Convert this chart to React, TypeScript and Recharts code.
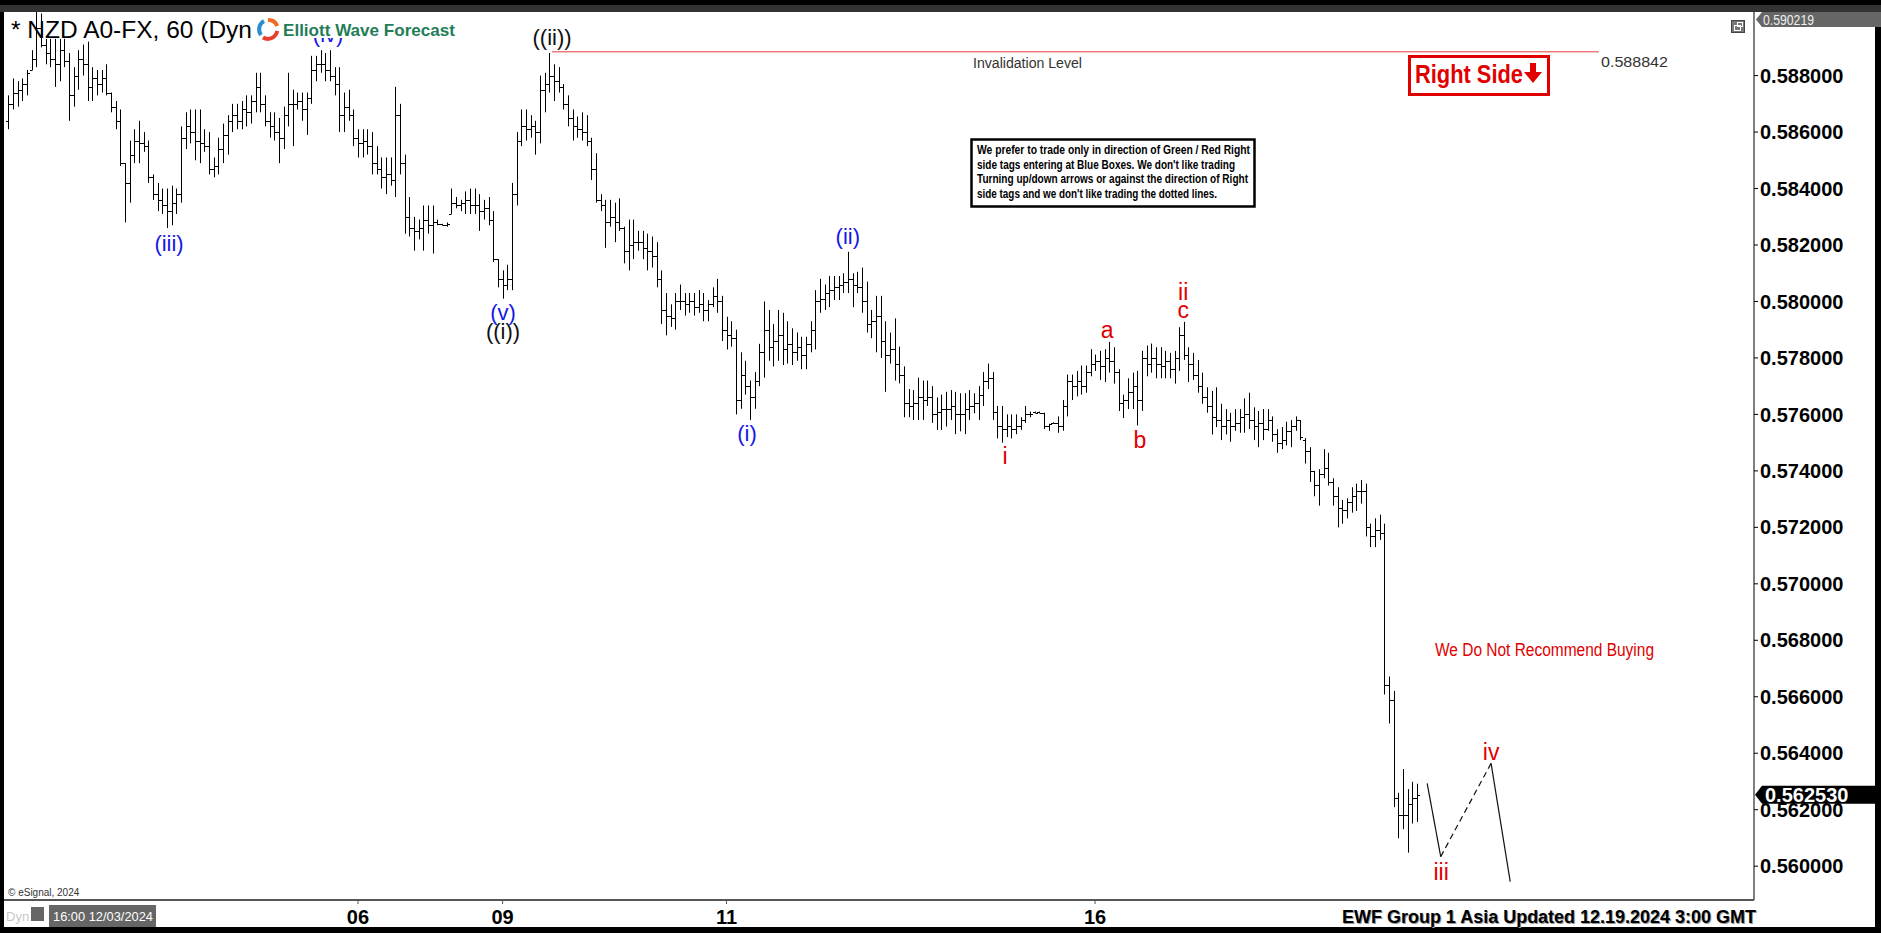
import React from 'react'
import {
  ComposedChart,
  Bar,
  Line,
  XAxis,
  YAxis,
  ReferenceLine,
  ReferenceDot,
} from 'recharts'

// hourly bars, prices in pips (x10000)
const highs = [
  5873, 5879, 5878, 5879, 5882, 5889, 5903, 5902, 5893, 5893,
  5893, 5893, 5893, 5888, 5883, 5889, 5891, 5892, 5883, 5882,
  5882, 5884, 5874, 5871, 5868, 5849, 5857, 5861, 5864, 5860,
  5857, 5845, 5842, 5840, 5840, 5841, 5840, 5862, 5867, 5868,
  5868, 5868, 5861, 5860, 5851, 5858, 5863, 5866, 5870, 5870,
  5871, 5873, 5873, 5881, 5881, 5873, 5867, 5867, 5865, 5869,
  5881, 5875, 5874, 5874, 5874, 5887, 5887, 5889, 5888, 5889,
  5883, 5883, 5874, 5875, 5868, 5861, 5861, 5861, 5860, 5855,
  5851, 5851, 5851, 5876, 5870, 5852, 5837, 5830, 5829, 5834,
  5834, 5834, 5829, 5827.5, 5828, 5840, 5837, 5836, 5839, 5840,
  5840, 5838, 5836, 5837, 5832, 5815, 5811, 5813, 5842, 5860,
  5868, 5868, 5866, 5864, 5880, 5881, 5888, 5884, 5883, 5877,
  5873, 5868, 5865.5, 5867, 5866, 5858, 5852.5, 5838, 5836, 5836,
  5835, 5836.5, 5826.5, 5829, 5829, 5825, 5825, 5824, 5823, 5821,
  5811, 5803, 5799, 5803, 5806, 5803, 5803, 5803, 5804, 5803,
  5800.5, 5805, 5808, 5802, 5794.6, 5793, 5790, 5782, 5779, 5772,
  5775, 5785, 5800, 5797, 5792, 5797, 5796, 5793, 5790.5, 5789,
  5787.5, 5787.5, 5793, 5804, 5808, 5806, 5809, 5809, 5809, 5810,
  5817.6, 5810, 5810.5, 5812, 5807, 5797, 5802, 5802, 5793, 5789,
  5794, 5784, 5777, 5769, 5768.6, 5773, 5772, 5772, 5770, 5766,
  5767, 5768, 5768.6, 5768, 5767.5, 5767.5, 5768.6, 5767.5, 5770, 5775,
  5778, 5775, 5763, 5763, 5760, 5760, 5760, 5759, 5763, 5761,
  5761, 5761, 5760.6, 5756.7, 5757.2, 5759.3, 5765.1, 5774.1, 5774.1, 5775.4,
  5777.3, 5777.3, 5783.1, 5781.2, 5782.5, 5783.1, 5785.7, 5783.8, 5776, 5767,
  5772.8, 5774.8, 5775.4, 5782.5, 5784.4, 5785.1, 5783.8, 5783.8, 5782.5, 5781.8,
  5782.5, 5790.9, 5792.8, 5783.8, 5781.8, 5779.3, 5774.8, 5769.6, 5768.3, 5769.6,
  5763.8, 5761.9, 5760.6, 5761.9, 5761.9, 5765.7, 5767.7, 5762.5, 5761.2, 5761.9,
  5761.9, 5759.3, 5754.8, 5755.5, 5757.4, 5758.0, 5759.3, 5758.0, 5751.6, 5748.4,
  5740.0, 5740.6, 5747.7, 5746.4, 5737.4, 5734.2, 5729.7, 5730.3, 5734.2, 5735.5,
  5736.8, 5735.5, 5721.3, 5723.2, 5724.5, 5721.3, 5667.2, 5662.1, 5626.0, 5634.4,
  5627.3, 5629.9, 5629.2,
]

const lows = [
  5861, 5868, 5869, 5871, 5873, 5882, 5883, 5890, 5884, 5883,
  5876, 5878, 5883, 5864, 5869, 5875, 5880, 5871, 5871, 5873,
  5874, 5873, 5867, 5861, 5848, 5828, 5835, 5849, 5849, 5853,
  5842, 5836, 5832, 5831, 5826, 5827, 5831, 5835, 5854, 5856,
  5850, 5849, 5853, 5845, 5844, 5845, 5849, 5852, 5860, 5861,
  5861, 5862, 5863, 5867, 5867, 5862, 5858, 5857, 5849, 5854,
  5862, 5855, 5868, 5864, 5859, 5870, 5878, 5881, 5878, 5878,
  5873, 5860, 5860, 5864, 5855, 5851, 5851, 5852, 5845, 5845,
  5840, 5838, 5841, 5837, 5845, 5824, 5823, 5818, 5822, 5818,
  5824, 5817, 5827, 5827, 5826.5, 5831, 5833, 5832, 5831, 5831,
  5831, 5825, 5829, 5827, 5814, 5805, 5801, 5804, 5804, 5834,
  5855, 5857, 5858, 5852, 5856, 5867, 5874, 5871, 5874, 5868,
  5862, 5857, 5858, 5857, 5855, 5843, 5835, 5832, 5819, 5826.5,
  5821, 5825, 5813.5, 5811, 5815, 5818, 5815, 5811, 5812, 5805,
  5792, 5788, 5791, 5790, 5797, 5795, 5796, 5795, 5796, 5793,
  5793, 5798, 5796, 5786, 5783, 5784, 5760, 5762, 5767, 5758,
  5762, 5770, 5773, 5779, 5777, 5779, 5777.5, 5778, 5777.5, 5779,
  5776, 5776, 5782, 5783, 5796, 5797, 5798, 5800.5, 5800.5, 5803,
  5803, 5798, 5803, 5796, 5789, 5787, 5782, 5780, 5768, 5778,
  5772, 5771, 5759, 5759, 5758, 5758, 5758, 5763, 5757, 5754.5,
  5754.5, 5755.7, 5758, 5753, 5754, 5753, 5758, 5760.4, 5758, 5763,
  5769, 5758, 5751.5, 5750, 5752, 5751.5, 5753, 5754.5, 5757, 5759,
  5760.5, 5760.5, 5754.8, 5754.2, 5756.8, 5753.5, 5754.2, 5759.3, 5765.1, 5766.4,
  5767.0, 5767.7, 5773.5, 5775.4, 5772.2, 5771.5, 5774.8, 5770.9, 5761.2, 5758.7,
  5761.9, 5761.9, 5756.1, 5761.2, 5773.5, 5774.8, 5772.8, 5772.8, 5772.8, 5772.8,
  5770.9, 5775.4, 5779.3, 5771.5, 5772.2, 5767.7, 5763.8, 5760.6, 5752.9, 5755.5,
  5750.9, 5752.9, 5750.3, 5754.2, 5753.5, 5753.5, 5754.8, 5750.9, 5748.4, 5750.9,
  5754.2, 5750.3, 5746.4, 5747.7, 5749.0, 5748.4, 5754.2, 5750.9, 5742.6, 5736.1,
  5731.0, 5727.7, 5737.4, 5734.8, 5727.7, 5720.0, 5721.3, 5723.2, 5725.2, 5725.8,
  5728.4, 5716.8, 5713.0, 5713.0, 5715.5, 5660.8, 5650.5, 5620.9, 5609.9, 5613.1,
  5604.8, 5615.1, 5615.7,
]

const opens = [
  5864, 5870, 5874, 5875, 5877, 5882, 5886, 5897, 5891, 5888,
  5886, 5884, 5889, 5885, 5873, 5880, 5886, 5884, 5876, 5879,
  5877, 5879, 5874, 5869, 5864, 5849, 5842, 5852, 5857, 5856,
  5855, 5844, 5838, 5836, 5834, 5832, 5835, 5838, 5858, 5862,
  5860, 5857, 5856, 5855, 5847, 5848, 5854, 5859, 5864, 5866,
  5864, 5868, 5867, 5871, 5876, 5870, 5864, 5862, 5860, 5858,
  5866, 5870, 5870, 5871, 5868, 5872, 5882, 5884, 5884, 5882,
  5880, 5877, 5866, 5869, 5866, 5858, 5856, 5857, 5855, 5849,
  5847, 5844, 5845, 5843, 5866, 5849, 5830, 5826, 5825, 5826,
  5829, 5827, 5828, 5827.5, 5827, 5831, 5835, 5834, 5835, 5836,
  5834, 5834, 5832, 5833, 5829, 5815, 5808, 5806, 5808, 5838,
  5857, 5862, 5861, 5862, 5860, 5875, 5877, 5880, 5878, 5876,
  5870, 5865, 5862, 5861, 5860, 5857, 5847, 5836, 5834, 5828,
  5830, 5828, 5826, 5818, 5820, 5821, 5821, 5819, 5818, 5816,
  5808, 5797, 5795, 5794, 5800, 5800, 5799, 5800, 5798, 5799,
  5797, 5799, 5802, 5800, 5790, 5788, 5787, 5765, 5774, 5770,
  5766, 5772, 5782, 5790, 5784, 5786, 5788, 5783, 5785, 5782,
  5784, 5781, 5785, 5790, 5800, 5801, 5803, 5804, 5805, 5806,
  5807, 5808, 5806, 5805, 5800, 5792, 5793, 5795, 5786, 5781,
  5783, 5778, 5774, 5764, 5763, 5764, 5766, 5765, 5766, 5760,
  5761, 5762, 5762, 5763, 5760, 5760, 5762, 5763, 5764, 5767,
  5772, 5773, 5761, 5756, 5755, 5756, 5755, 5756, 5758, 5760,
  5761, 5761, 5760.5, 5756, 5757, 5757, 5756, 5763, 5772, 5770,
  5772, 5770, 5775, 5778, 5779, 5777, 5780, 5779, 5775, 5764,
  5765, 5768, 5770, 5765, 5780, 5778, 5780, 5778, 5777, 5779,
  5776, 5780, 5788, 5781, 5778, 5774, 5770, 5766, 5763, 5759,
  5758, 5756, 5758, 5756, 5757, 5759, 5760, 5758, 5756, 5757,
  5755, 5758, 5753, 5750, 5751, 5754, 5756, 5758, 5751, 5747,
  5740, 5735, 5739, 5741, 5736, 5731, 5727, 5726, 5729, 5731,
  5733, 5733, 5720, 5717, 5719, 5718, 5664, 5659, 5624, 5618,
  5618, 5622, 5624,
]

const closes = [
  5870, 5874, 5875, 5877, 5881, 5886, 5897, 5891, 5888, 5886,
  5884, 5889, 5885, 5873, 5880, 5886, 5884, 5876, 5879, 5877,
  5879, 5874, 5869, 5864, 5849, 5842, 5852, 5857, 5856, 5855,
  5844, 5838, 5836, 5834, 5832, 5835, 5838, 5858, 5862, 5860,
  5857, 5856, 5855, 5847, 5848, 5854, 5859, 5864, 5866, 5864,
  5868, 5867, 5871, 5876, 5870, 5864, 5862, 5860, 5858, 5866,
  5870, 5870, 5871, 5868, 5872, 5882, 5884, 5884, 5882, 5880,
  5877, 5866, 5869, 5866, 5858, 5856, 5857, 5855, 5849, 5847,
  5844, 5845, 5843, 5866, 5849, 5830, 5826, 5825, 5826, 5829,
  5827, 5828, 5827.5, 5827, 5827.5, 5835, 5834, 5835, 5836, 5834,
  5834, 5832, 5833, 5829, 5815, 5808, 5806, 5808, 5838, 5857,
  5862, 5861, 5862, 5860, 5875, 5877, 5880, 5878, 5876, 5870,
  5865, 5862, 5861, 5860, 5857, 5847, 5836, 5834, 5828, 5830,
  5828, 5826, 5818, 5820, 5821, 5821, 5819, 5818, 5816, 5808,
  5797, 5795, 5794, 5800, 5800, 5799, 5800, 5798, 5799, 5797,
  5799, 5802, 5800, 5790, 5788, 5787, 5765, 5774, 5770, 5766,
  5772, 5782, 5790, 5784, 5786, 5788, 5783, 5785, 5782, 5784,
  5781, 5785, 5790, 5800, 5801, 5803, 5804, 5805, 5806, 5807,
  5808, 5806, 5805, 5800, 5792, 5793, 5795, 5786, 5781, 5783,
  5778, 5774, 5764, 5763, 5764, 5766, 5765, 5766, 5760, 5761,
  5762, 5762, 5763, 5760, 5760, 5762, 5763, 5764, 5767, 5772,
  5773, 5761, 5756, 5755, 5756, 5755, 5756, 5758, 5760, 5760,
  5760.5, 5760.5, 5756, 5756.5, 5757, 5756, 5763, 5772, 5770, 5772,
  5770, 5775, 5778, 5779, 5777, 5780, 5779, 5775, 5764, 5765,
  5768, 5770, 5765, 5780, 5778, 5780, 5778, 5777, 5779, 5776,
  5780, 5788, 5781, 5778, 5774, 5770, 5766, 5763, 5759, 5758,
  5756, 5758, 5756, 5757, 5759, 5760, 5758, 5756, 5757, 5755,
  5758, 5753, 5750, 5751, 5754, 5756, 5758, 5752, 5747, 5740,
  5735, 5739, 5741, 5736, 5731, 5727, 5726, 5729, 5731, 5733,
  5733, 5720, 5717, 5719, 5718, 5664, 5659, 5624, 5618, 5618,
  5622, 5624, 5625.3,
]

const dayTicks = [75, 106, 154, 233]
const dayLabels = ['06', '09', '11', '16']
const priceTicks = [
  0.56, 0.562, 0.564, 0.566, 0.568, 0.57, 0.572, 0.574,
  0.576, 0.578, 0.58, 0.582, 0.584, 0.586, 0.588,
]

const BLUE = '#1717e6'
const RED = '#e00000'
const BLACK = '#111111'

const waveLabels = [
  { i: 68.6, price: 0.58944, text: '(iv)', color: BLUE },
  { i: 34.5, price: 0.582036, text: '(iii)', color: BLUE },
  { i: 106.1, price: 0.579627, text: '(v)', color: BLUE },
  { i: 106.1, price: 0.578954, text: '((i))', color: BLACK },
  { i: 116.6, price: 0.589367, text: '((ii))', color: BLACK },
  { i: 158.4, price: 0.575307, text: '(i)', color: BLUE },
  { i: 180.0, price: 0.582319, text: '(ii)', color: BLUE },
  { i: 213.7, price: 0.574527, text: 'i', color: RED },
  { i: 235.6, price: 0.57899, text: 'a', color: RED },
  { i: 242.6, price: 0.575094, text: 'b', color: RED },
  { i: 251.9, price: 0.580336, text: 'ii', color: RED },
  { i: 251.9, price: 0.579699, text: 'c', color: RED },
  { i: 307.2, price: 0.559795, text: 'iii', color: RED },
  { i: 317.9, price: 0.564044, text: 'iv', color: RED },
]

// projected path after the last bar
const pathToIii = [{ i: 304.2, p: 0.562935 }, { i: 307.1, p: 0.560336 }]
const pathToIv = [{ i: 307.1, p: 0.560336 }, { i: 317.9, p: 0.563644 }]
const pathToV = [{ i: 317.9, p: 0.563644 }, { i: 322.0, p: 0.55945 }]

const invalidationLevel = 0.588842
const invalidationFrom = 116.6
const invalidationTo = 341
const lastPrice = 0.56253

const FONT = '"Liberation Sans", Arial, sans-serif'

const bars = highs.map((h, k) => ({
  i: k,
  open: opens[k] / 10000,
  high: h / 10000,
  low: lows[k] / 10000,
  close: closes[k] / 10000,
  range: [lows[k] / 10000, h / 10000],
}))

function OhlcShape(props: any) {
  const { x, y, width, height, payload } = props
  if (x == null || y == null || !payload) return null
  const top = Math.min(y, y + height)
  const span = Math.abs(height)
  const cx = Math.round(x + width / 2) + 0.5
  const range = payload.high - payload.low
  const toY = (v: number) =>
    range > 0 ? top + ((payload.high - v) / range) * span : top
  const yo = Math.round(toY(payload.open)) + 0.5
  const yc = Math.round(toY(payload.close)) + 0.5
  return (
    <g stroke="#000" strokeWidth={1}>
      <line x1={cx} x2={cx} y1={top} y2={top + Math.max(span, 1)} />
      <line x1={cx - 2.5} x2={cx} y1={yo} y2={yo} />
      <line x1={cx} x2={cx + 2.5} y1={yc} y2={yc} />
    </g>
  )
}

const waveShape = (text: string, color: string) => (p: any) => (
  <text
    x={p.cx}
    y={p.cy}
    textAnchor="middle"
    dominantBaseline="central"
    fill={color}
    fontSize={color === RED ? 23 : 22}
    fontFamily={FONT}
  >
    {text}
  </text>
)

const priceTag = (p: any) => (
  <g>
    <polygon
      points={`${p.cx + 1},${p.cy} ${p.cx + 8},${p.cy - 9} ${p.cx + 122},${p.cy - 9} ${p.cx + 122},${p.cy + 9} ${p.cx + 8},${p.cy + 9}`}
      fill="#000"
    />
    <text
      x={p.cx + 11}
      y={p.cy + 7}
      fill="#fff"
      fontSize={20}
      fontWeight="bold"
      fontFamily={FONT}
    >
      {lastPrice.toFixed(6)}
    </text>
  </g>
)

function Overlay() {
  return (
    <svg
      width={1881}
      height={933}
      style={{ position: 'absolute', left: 0, top: 0, pointerEvents: 'none' }}
    >
      <text x={11} y={38} fontSize={24.5} fontFamily={FONT} fill="#000">
        * NZD A0-FX, 60 (Dyn
      </text>
      <rect x={256} y={13} width={202} height={25} fill="#fff" />
      <g>
        <path d="M268,20 A9.5,9.5 0 0,1 277.2,26" stroke="#f26b21" strokeWidth={4} fill="none" />
        <path d="M277.2,31 A9.5,9.5 0 0,1 263,37.5" stroke="#e8402a" strokeWidth={4} fill="none" />
        <path d="M261,35 A9.5,9.5 0 0,1 264,21" stroke="#2a8fd0" strokeWidth={4} fill="none" />
      </g>
      <text
        x={283}
        y={35.5}
        fontSize={17}
        fontWeight="bold"
        fontFamily={FONT}
        fill="#1f7d57"
        textLength={172}
        lengthAdjust="spacingAndGlyphs"
      >
        Elliott Wave Forecast
      </text>

      <text x={973} y={68} fontSize={15.5} fontFamily={FONT} fill="#333" textLength={109} lengthAdjust="spacingAndGlyphs">
        Invalidation Level
      </text>
      <text x={1601} y={67} fontSize={15} fontFamily={FONT} fill="#333" textLength={67} lengthAdjust="spacingAndGlyphs">
        {invalidationLevel.toFixed(6)}
      </text>

      <rect x={971.5} y={139.5} width={283} height={67} fill="#fff" stroke="#000" strokeWidth={2.5} />
      <g fontSize={12} fontWeight="bold" fontFamily={FONT} fill="#000">
        <text x={977} y={154} textLength={273} lengthAdjust="spacingAndGlyphs">
          We prefer to trade only in direction of Green / Red Right
        </text>
        <text x={977} y={169} textLength={258} lengthAdjust="spacingAndGlyphs">
          side tags entering at Blue Boxes. We don't like trading
        </text>
        <text x={977} y={183} textLength={271} lengthAdjust="spacingAndGlyphs">
          Turning up/down arrows or against the direction of Right
        </text>
        <text x={977} y={198} textLength={240} lengthAdjust="spacingAndGlyphs">
          side tags and we don't like trading the dotted lines.
        </text>
      </g>

      <rect x={1409.5} y={56.5} width={139} height={38} fill="#fff" stroke={RED} strokeWidth={3} />
      <text
        x={1415}
        y={82.5}
        fontSize={26}
        fontWeight="bold"
        fontFamily={FONT}
        fill={RED}
        textLength={108}
        lengthAdjust="spacingAndGlyphs"
      >
        Right Side
      </text>
      <rect x={1530} y={63} width={6} height={10} fill={RED} />
      <polygon points="1524,72 1542,72 1533,83" fill={RED} />

      <text
        x={1435}
        y={656}
        fontSize={18}
        fontFamily={FONT}
        fill={RED}
        textLength={219}
        lengthAdjust="spacingAndGlyphs"
      >
        We Do Not Recommend Buying
      </text>

      <rect x={1731.5} y={20.5} width={13} height={12} fill="#777" stroke="#444" />
      <rect x={1734.5} y={25.5} width={6} height={5} fill="none" stroke="#fff" />
      <rect x={1737.5} y={22.5} width={5} height={4} fill="none" stroke="#fff" />

      <polygon points="1756,19.5 1762,12 1881,12 1881,27 1762,27" fill="#666" />
      <text x={1763} y={25} fontSize={14} fontFamily={FONT} fill="#eee" textLength={51} lengthAdjust="spacingAndGlyphs">
        0.590219
      </text>

      <text x={8} y={896} fontSize={10} fontFamily={FONT} fill="#333">
        © eSignal, 2024
      </text>
      <text x={6} y={921} fontSize={13} fontFamily={FONT} fill="#c8c8c8">
        Dyn
      </text>
      <rect x={31} y={907} width={13} height={14} fill="#666" />
      <rect x={49} y={905} width={107} height={22} fill="#666" />
      <text x={53} y={921} fontSize={13} fontFamily={FONT} fill="#fff" textLength={100} lengthAdjust="spacingAndGlyphs">
        16:00 12/03/2024
      </text>

      <text
        x={1343}
        y={923.5}
        fontSize={18}
        fontWeight="bold"
        fontFamily={FONT}
        fill="#999"
        textLength={414}
        lengthAdjust="spacingAndGlyphs"
      >
        EWF Group 1 Asia  Updated 12.19.2024 3:00 GMT
      </text>
      <text
        x={1342}
        y={922.5}
        fontSize={18}
        fontWeight="bold"
        fontFamily={FONT}
        fill="#000"
        textLength={414}
        lengthAdjust="spacingAndGlyphs"
      >
        EWF Group 1 Asia  Updated 12.19.2024 3:00 GMT
      </text>
    </svg>
  )
}

export default function App() {
  return (
    <div
      style={{
        position: 'fixed',
        left: 0,
        top: 0,
        width: 1881,
        height: 933,
        background: '#000',
        overflow: 'hidden',
        fontFamily: FONT,
      }}
    >
      <div style={{ position: 'absolute', left: 0, top: 5, width: 1881, height: 7, background: '#333' }} />
      <div style={{ position: 'absolute', left: 4, top: 12, width: 1871, height: 915, background: '#fff' }} />
      <div style={{ position: 'absolute', left: 0, top: 0 }}>
        <ComposedChart
          width={1881}
          height={933}
          data={bars}
          margin={{ top: 12, right: 6, bottom: 6, left: 4 }}
        >
          <XAxis
            dataKey="i"
            type="number"
            domain={[-0.88, 374.26]}
            allowDataOverflow
            ticks={dayTicks}
            tickFormatter={(v: number) => dayLabels[dayTicks.indexOf(v)] ?? ''}
            height={27}
            tickSize={4}
            tickMargin={6}
            axisLine={{ stroke: '#555', strokeWidth: 2 }}
            tickLine={{ stroke: '#555' }}
            tick={{ fill: '#000', fontSize: 20, fontWeight: 'bold', fontFamily: FONT }}
          />
          <YAxis
            orientation="right"
            type="number"
            domain={[0.558802, 0.5902525]}
            allowDataOverflow
            ticks={priceTicks}
            tickFormatter={(v: number) => v.toFixed(6)}
            width={121}
            tickSize={4}
            tickMargin={2}
            axisLine={{ stroke: '#555', strokeWidth: 1.5 }}
            tickLine={{ stroke: '#000' }}
            tick={{ fill: '#000', fontSize: 20, fontWeight: 'bold', fontFamily: FONT }}
          />
          <ReferenceLine
            segment={[
              { x: invalidationFrom, y: invalidationLevel },
              { x: invalidationTo, y: invalidationLevel },
            ]}
            stroke="#e23a3a"
            strokeWidth={1}
            ifOverflow="visible"
          />
          <Bar
            dataKey="range"
            barSize={3}
            shape={OhlcShape}
            isAnimationActive={false}
          />
          <Line data={pathToIii} dataKey="p" stroke="#111" strokeWidth={1.2} dot={false} isAnimationActive={false} />
          <Line data={pathToIv} dataKey="p" stroke="#111" strokeWidth={1.2} strokeDasharray="6 4" dot={false} isAnimationActive={false} />
          <Line data={pathToV} dataKey="p" stroke="#111" strokeWidth={1.2} dot={false} isAnimationActive={false} />
          {waveLabels.map((l) => (
            <ReferenceDot
              key={l.text + l.i}
              x={l.i}
              y={l.price}
              r={0}
              ifOverflow="visible"
              shape={waveShape(l.text, l.color)}
            />
          ))}
          <ReferenceDot x={374.26} y={lastPrice} r={0} ifOverflow="visible" shape={priceTag} />
        </ComposedChart>
      </div>
      <Overlay />
    </div>
  )
}
